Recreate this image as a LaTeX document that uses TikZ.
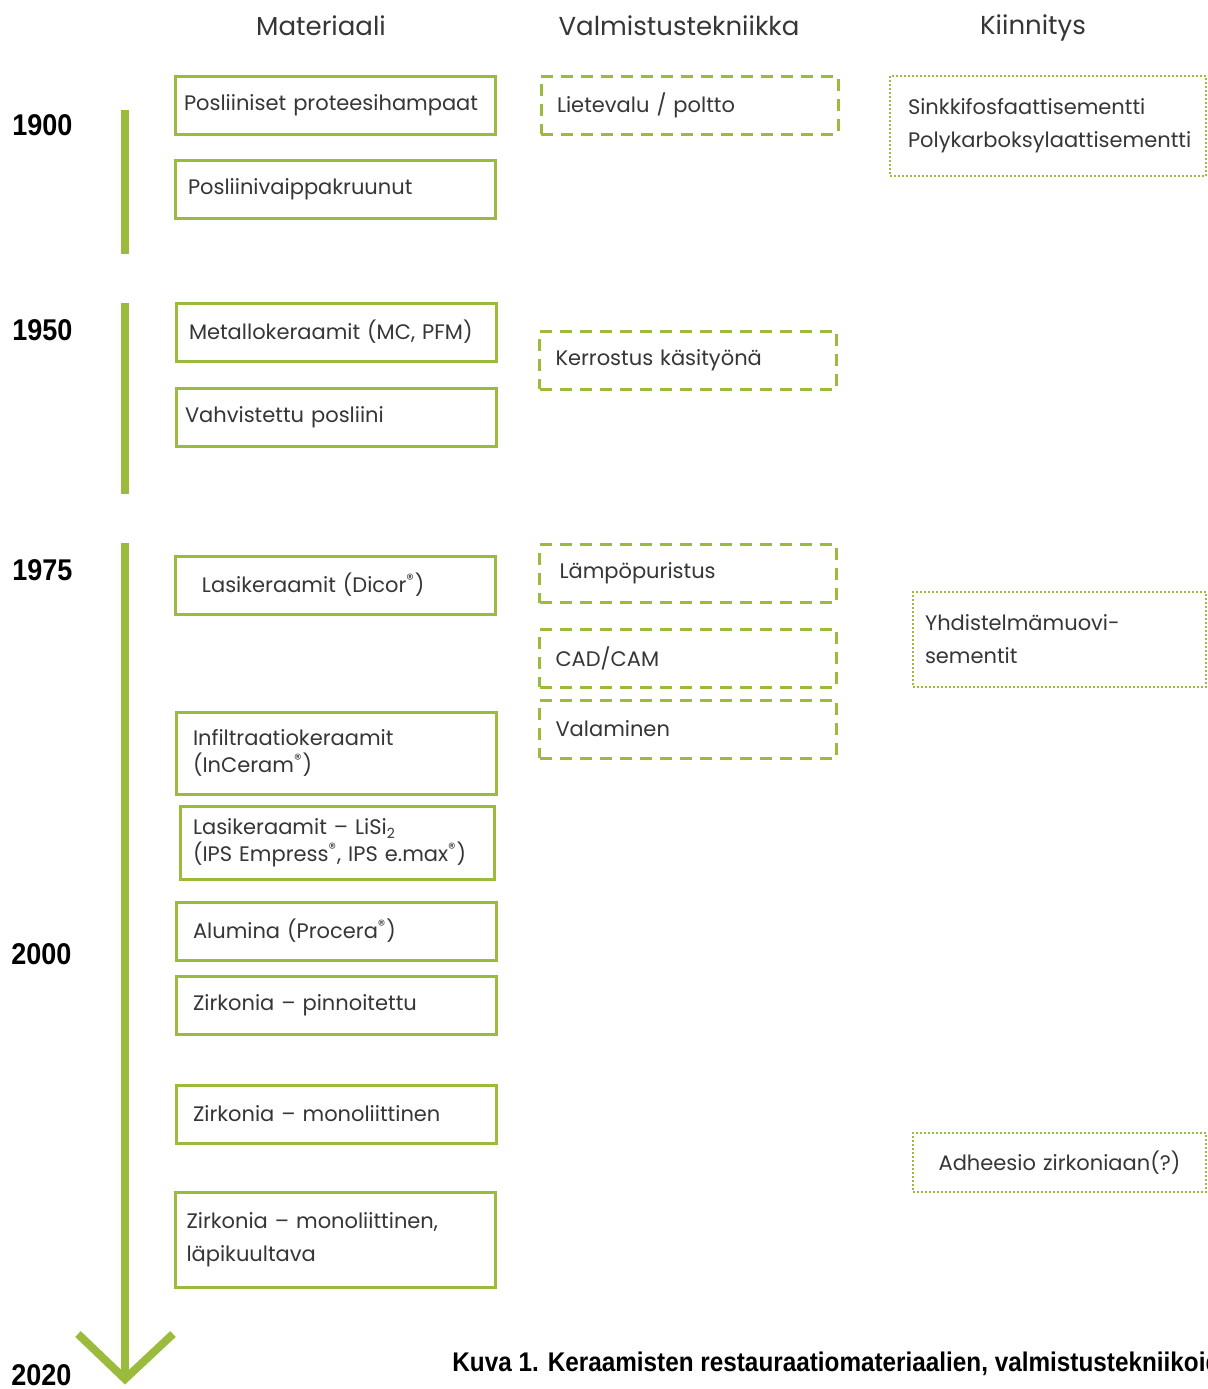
\documentclass[tikz,border=0pt]{standalone}
\usepackage{fontspec}
\setmainfont{Poppins}
\newfontfamily\yearfont[FakeStretch=0.9]{Liberation Sans}
\definecolor{lime}{HTML}{9BBB3C}
\definecolor{inkgrey}{HTML}{363636}
\tikzset{
  tline/.style={draw=lime, line width=4pt},
  colhead/.style={font=\fontsize{13}{15}\selectfont, text=inkgrey},
  yearlbl/.style={anchor=west, inner sep=0pt, font=\yearfont\bfseries\fontsize{15}{17}\selectfont},
  matbox/.style={draw=lime, line width=1.5pt, fill=white, text=inkgrey, align=left,
    text width=151pt, inner xsep=4.5pt, inner ysep=2pt, minimum height=29pt,
    font=\fontsize{10.5}{13.5}\selectfont},
  indented/.style={text width=143pt, inner xsep=8.5pt},
  techbox/.style={draw=lime, line width=1.5pt, dash pattern=on 6pt off 4pt, fill=white,
    text=inkgrey, align=left, text width=132.5pt, inner xsep=8pt, minimum height=29pt,
    font=\fontsize{10.5}{13.5}\selectfont},
  fixbox/.style={draw=lime, line width=1pt, dash pattern=on 1pt off 1pt, fill=white,
    text=inkgrey, align=left, font=\fontsize{10.5}{16.5}\selectfont},
}
\newcommand{\reg}{\textsuperscript{®}}

\begin{document}
\begin{tikzpicture}[x=0.5pt, y=-0.5pt]
	\useasboundingbox (0,0) rectangle (1208,1389);
	\clip (0,0) rectangle (1208,1389);
	% column headings
	\node [colhead] (hmat) at (321,26) {Materiaali};
	\node [colhead] (htech) at (679,26) {Valmistustekniikka};
	\node [colhead] (hfix) at (1033,28) {Kiinnitys};
	% years
	\node [yearlbl] (y1900) at (12,125) {1900};
	\node [yearlbl] (y1950) at (12,330) {1950};
	\node [yearlbl] (y1975) at (12,570) {1975};
	\node [yearlbl] (y2000) at (11,954) {2000};
	\node [yearlbl] (y2020) at (11,1375) {2020};
	% timeline
	\coordinate (s1a) at (125,110); \coordinate (s1b) at (125,254);
	\coordinate (s2a) at (125,303); \coordinate (s2b) at (125,494);
	\coordinate (s3a) at (125,543); \coordinate (s3b) at (125,1379);
	\coordinate (tipl) at (78,1334); \coordinate (tipr) at (173,1334);
	\draw [tline] (s1a) -- (s1b);
	\draw [tline] (s2a) -- (s2b);
	\draw [tline] (s3a) -- (s3b);
	\draw [tline, line join=miter] (tipl) -- (s3b) -- (tipr);
	% materials
	\node [matbox] (m1) at (335,105) {Posliiniset proteesihampaat};
	\node [matbox] (m2) at (335,189) {\hspace*{2pt}Posliinivaippakruunut};
	\node [matbox] (m3) at (336,332) {\hspace*{2pt}Metallokeraamit (MC, PFM)};
	\node [matbox] (m4) at (336,417) {Vahvistettu posliini};
	\node [matbox] (m5) at (335,585) {\hspace*{9pt}Lasikeraamit (Dicor\reg)};
	\node [matbox, indented, minimum height=41pt] (m6) at (336,753) {Infiltraatiokeraamit\\(InCeram\reg)};
	\node [matbox, indented, text width=144pt, inner xsep=6.5pt, minimum height=36.5pt] (m7) at (337,842.5)
		{Lasikeraamit -- LiSi\raisebox{-0.4ex}{\scriptsize 2}\\(IPS Empress\reg, IPS e.max\reg)};
	\node [matbox, indented] (m8) at (336,931) {Alumina (Procera\reg)};
	\node [matbox, indented] (m9) at (336,1005.5) {Zirkonia -- pinnoitettu};
	\node [matbox, indented] (m10) at (336,1114) {Zirkonia -- monoliittinen};
	\node [matbox, minimum height=47.5pt, font=\fontsize{10.5}{16.5}\selectfont] (m11) at (335.5,1239.5)
		{\hspace*{1pt}Zirkonia -- monoliittinen,\\\hspace*{1pt}läpikuultava};
	% techniques
	\node [techbox] (t1) at (689.5,105) {Lietevalu / poltto};
	\node [techbox] (t2) at (688,360) {Kerrostus käsityönä};
	\node [techbox] (t3) at (688,573.5) {\hspace*{2pt}Lämpöpuristus};
	\node [techbox] (t4) at (688,658) {CAD/CAM};
	\node [techbox] (t5) at (688,729) {Valaminen};
	% fixing
	\node [fixbox, text width=140pt, inner xsep=9pt, minimum height=50pt] (f1) at (1048,126)
		{Sinkkifosfaattisementti\\Polykarboksylaattisementti};
	\node [fixbox, text width=134.5pt, inner xsep=6pt, minimum height=47.5pt] (f2) at (1059.5,639.5)
		{Yhdistelmämuovi-\\sementit};
	\node [fixbox, align=center, text width=134.5pt, inner xsep=6pt, minimum height=29.5pt] (f3) at (1059.5,1162.5)
		{Adheesio zirkoniaan(?)};
	% caption
	\node [anchor=base west, font=\yearfont\bfseries\fontsize{13.5}{16}\selectfont, inner sep=0pt] (cap) at (452,1371)
		{Kuva 1. Keraamisten restauraatiomateriaalien, valmistustekniikoiden ja};
\end{tikzpicture}
\end{document}
